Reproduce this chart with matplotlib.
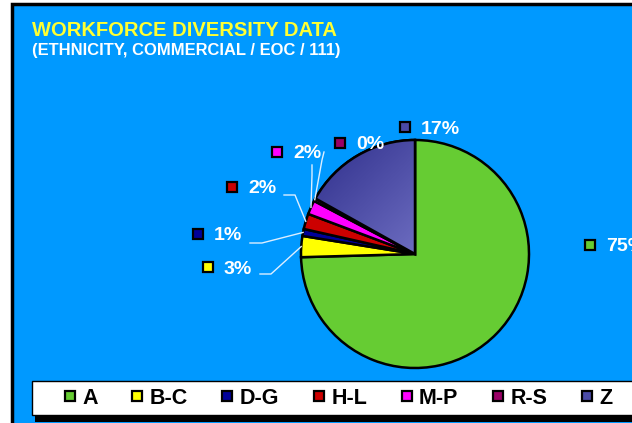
import numpy as np
import matplotlib.pyplot as plt
from matplotlib.patches import Rectangle, Wedge
from matplotlib.lines import Line2D
from matplotlib.colors import LinearSegmentedColormap

categories = ['A', 'B-C', 'D-G', 'H-L', 'M-P', 'R-S', 'Z']
shares = [75.0, 3.0, 1.0, 2.2, 2.0, 0.4, 17.0]
colors = ['#66CC33', '#FFFF00', '#000099', '#CC0000', '#FF00FF', '#990066', '#4A4AA6']

title = 'WORKFORCE DIVERSITY DATA'
subtitle = '(ETHNICITY, COMMERCIAL / EOC / 111)'

W, H = 632, 423
plt.rcParams['font.family'] = ['Liberation Sans', 'DejaVu Sans']
fig = plt.figure(figsize=(W / 100, H / 100), dpi=100, facecolor='white')
ax = fig.add_axes([0, 0, 1, 1])

# blue panel with black frame
ax.add_patch(Rectangle((12, 4), W, H, facecolor='#0099FF', edgecolor='black', lw=2.5, zorder=0))

ax.text(32, 30, title, color='#FFFF33', fontsize=14.5, fontweight='bold', va='center')
ax.text(32, 51, subtitle, color='white', fontsize=11.9, fontweight='bold', va='center')

# pie in pixel space (y inverted, so counterclock=True looks clockwise)
cx, cy, r = 415, 254, 114
wedges, _ = ax.pie(shares, colors=colors, startangle=-90, counterclock=True,
                   center=(cx, cy), radius=r, frame=True,
                   wedgeprops=dict(edgecolor='black', linewidth=1.8))
ax.set_xlim(0, W)
ax.set_ylim(H, 0)
ax.axis('off')

# gradient fill on the Z slice
zw = wedges[-1]
yy, xx = np.mgrid[0:1:100j, 0:1:100j]
zcmap = LinearSegmentedColormap.from_list('z', ['#2B2B88', '#6C6CC0'])
img = ax.imshow((xx + yy) / 2, extent=(cx - r, cx, cy, cy - r), cmap=zcmap,
                zorder=zw.get_zorder() + 0.1, aspect='auto')
img.set_clip_path(zw)
ax.add_patch(Wedge((cx, cy), r, zw.theta1, zw.theta2, facecolor='none', edgecolor='black',
                   lw=1.8, zorder=zw.get_zorder() + 0.2))
ax.set_xlim(0, W)
ax.set_ylim(H, 0)

# label layout: marker centre, leader start/elbow (or None)
label_pos = [(590, 245), (207.5, 267.5), (197.5, 234.5), (232, 187), (277, 152), (340, 143), (404.5, 127.5)]
leaders = [None, [(260, 274), (271, 274)], [(250, 243), (262, 243)], [(284, 195), (295, 195)],
           [(312, 165), (312, 175)], [(324, 152), (322, 160)], None]

for i, (cat, v) in enumerate(zip(categories, shares)):
    mx, my = label_pos[i]
    ax.plot(mx, my, marker='s', ms=7, mfc=colors[i], mec='black', mew=1.6, zorder=5)
    ax.text(mx + 16.5, my + 1.5, f'{v:.0f}%', color='white', fontsize=14, fontweight='bold',
            va='center', ha='left', zorder=5)
    if leaders[i] is not None:
        w = wedges[i]
        mid = np.deg2rad((w.theta1 + w.theta2) / 2)
        ex, ey = cx + r * np.cos(mid), cy + r * np.sin(mid)
        pts = leaders[i] + [(ex, ey)]
        ax.plot([p[0] for p in pts], [p[1] for p in pts], color='#DDEEFF', lw=1, zorder=4)

# legend box with shadow
ax.add_patch(Rectangle((35, 386), W, 36, facecolor='black', edgecolor='none', zorder=1))
ax.add_patch(Rectangle((32, 381), W, 34, facecolor='white', edgecolor='black', lw=1, zorder=2))
handles = [Line2D([], [], ls='none', marker='s', ms=7.5, mfc=c, mec='black', mew=1.6) for c in colors]
leg = ax.legend(handles, categories, loc='center left', bbox_to_anchor=(64 / W, 1 - 398 / H), ncol=7,
                frameon=False, prop=dict(weight='bold', size=15.5), handlelength=0.55, handletextpad=0.3,
                columnspacing=1.56, borderpad=0, borderaxespad=0)
leg.set_zorder(3)

fig.savefig('out.png', dpi=100, facecolor='white')
